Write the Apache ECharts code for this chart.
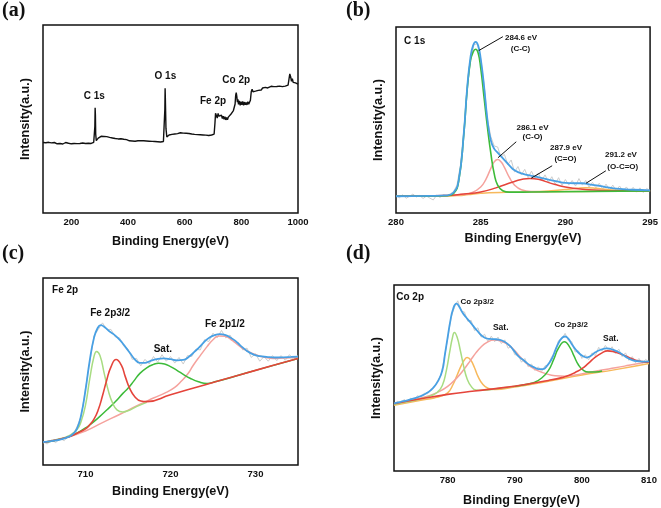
<!DOCTYPE html>
<html><head><meta charset="utf-8">
<script src="https://cdn.jsdelivr.net/npm/echarts@6/dist/echarts.min.js"></script>
<style>html,body{margin:0;padding:0;background:#fff}#c{width:661px;height:508px}</style>
</head><body><div id="c"></div>
<script>
// ---------- (a) survey ----------
const surveyData = [[100,37.5],[105,37.0],[110,37.4],[115,36.8],[120,37.6],[125,37.1],[130,37.3],[135,36.9],[140,37.5],[145,37.2],[150,36.8],[155,37.4],[160,37.0],[165,37.3],[170,36.7],[175,37.2],[180,37.5],[185,36.9],[190,37.1],[195,37.4],[200,36.8],[205,37.2],[210,37.0],[215,37.5],[220,36.9],[225,37.3],[230,37.0],[235,36.7],[240,37.2],[245,37.4],[250,37.0],[255,37.8],[260,37.1],[265,37.3],[270,37.0],[275,37.4],[279,37.6],[281,38.5],[283,46],[284,56],[285,52],[286,42],[288,38.5],[291,39.2],[295,39.8],[300,40.5],[305,40.8],[310,40.3],[315,40.7],[320,40.2],[325,40.6],[330,39.8],[335,40.2],[340,39.5],[345,39.9],[350,39.3],[355,39.6],[360,39.0],[365,39.4],[370,38.9],[375,39.5],[380,38.8],[385,39.2],[390,38.6],[395,39.0],[400,38.7],[405,38.4],[410,38.9],[415,38.3],[420,38.6],[425,38.2],[430,38.7],[435,38.4],[440,38.0],[445,38.5],[450,38.1],[455,38.4],[460,37.9],[465,38.3],[470,37.8],[475,38.2],[480,37.7],[485,38.1],[490,37.6],[495,38.0],[500,37.5],[505,37.9],[510,37.4],[515,37.8],[520,37.6],[525,38.0],[528,39],[530,55],[531,66.4],[532,60],[534,45],[537,40.5],[540,40.2],[545,41.5],[550,42.3],[555,41.8],[560,42.6],[565,42.0],[570,42.8],[575,42.2],[580,41.9],[585,42.7],[590,42.1],[595,42.5],[600,41.8],[605,42.4],[610,41.6],[615,42.3],[620,41.5],[625,42.0],[630,41.3],[635,41.8],[640,41.2],[645,41.7],[650,41.0],[655,41.6],[660,40.8],[665,41.5],[670,40.9],[675,41.4],[680,40.6],[685,41.2],[690,41.0],[695,41.5],[700,41.2],[704,42],[707,48],[709,53],[712,52],[715,50.5],[718,53],[721,51.5],[724,52.5],[727,50.8],[730,52],[733,50.2],[736,51.5],[739,49.8],[742,51.2],[745,49.5],[748,50.8],[751,49.6],[754,51],[757,50.2],[760,51.8],[763,52.5],[766,52],[769,53.5],[772,54.5],[775,55],[778,58],[780,62.5],[782,64],[784,62],[786,59],[788,60.5],[790,57.8],[793,59.6],[796,57.2],[799,59.2],[802,57.5],[805,59.4],[808,57.3],[811,59],[814,57.6],[817,58.8],[820,57.5],[823,59.2],[826,57.8],[829,58.5],[832,60],[835,64.5],[838,65.8],[841,64.5],[845,65.5],[850,64.8],[855,65.8],[860,65.2],[865,66.2],[870,65.4],[875,66.5],[880,65.8],[885,66.8],[890,67.8],[893,66.5],[897,67.5],[900,66.6],[905,67.4],[910,66.5],[915,67.2],[920,66.4],[925,67.3],[930,66.6],[935,67.5],[940,66.8],[945,67.2],[950,66.5],[955,67.5],[960,66.9],[965,68],[968,71],[971,74],[974,72.5],[977,70],[980,71.5],[983,69.5],[987,70.5],[991,69.2],[995,70],[1000,68.5]];
const surveyLabels = [[281,62.2,'C 1s'],[532,72.9,'O 1s'],[700,59.2,'Fe 2p'],[782,70.4,'Co 2p']];

// ---------- (b) C 1s ----------
const bRaw = [[280.0,9.5],[280.2,8.2],[280.4,9.8],[280.6,7.9],[280.8,9.0],[281.0,10.2],[281.2,8.6],[281.4,9.4],[281.6,7.8],[281.8,9.1],[282.0,8.0],[282.2,7.0],[282.4,9.6],[282.6,8.4],[282.8,9.9],[283.0,9.2],[283.2,10.3],[283.4,11.5],[283.6,15.0],[283.8,25.5],[284.0,42.0],[284.2,66.5],[284.4,82.0],[284.6,90.5],[284.8,91.0],[285.0,83.0],[285.2,69.0],[285.4,50.5],[285.6,41.0],[285.8,36.0],[286.0,35.5],[286.2,30.0],[286.4,31.5],[286.6,26.0],[286.8,28.5],[287.0,22.0],[287.2,25.0],[287.4,20.5],[287.6,23.5],[287.8,19.0],[288.0,22.5],[288.2,18.5],[288.4,21.5],[288.6,17.5],[288.8,20.5],[289.0,16.5],[289.2,19.5],[289.4,15.5],[289.6,19.0],[289.8,14.8],[290.0,18.0],[290.2,15.0],[290.4,17.5],[290.6,14.5],[290.8,18.5],[291.0,15.0],[291.2,17.5],[291.4,13.8],[291.6,16.5],[291.8,13.5],[292.0,16.0],[292.2,12.8],[292.4,15.5],[292.6,12.5],[292.8,15.0],[293.0,12.0],[293.2,14.5],[293.4,11.8],[293.6,14.0],[293.8,11.5],[294.0,13.8],[294.2,11.2],[294.4,13.5],[294.6,11.0],[294.8,13.2],[295.0,12.0]];
const bFit = [[280,9.0],[282,9.2],[283,9.5],[283.4,11],[283.7,17.5],[284.0,42.5],[284.2,67],[284.4,84],[284.55,90],[284.7,92],[284.85,90],[285.0,83],[285.2,68],[285.4,50],[285.6,39],[285.8,34.5],[286.0,32.5],[286.3,29.5],[286.7,25.5],[287.0,23],[287.5,21],[288,20],[288.5,19],[289,18],[289.5,17],[290,16.2],[290.5,16],[291,16],[291.5,15.3],[292,14.6],[292.5,13.8],[293,13.1],[294,12.5],[295,12.2]];
const bCC = [[280,9.0],[283,9.3],[283.4,10.5],[283.7,17],[284.0,42],[284.2,66],[284.4,82],[284.55,86.5],[284.7,88],[284.85,86],[285.0,78],[285.2,62],[285.4,46],[285.6,32],[285.8,21],[286.0,15],[286.3,12],[286.7,11.2],[288,11.3],[295,11.9]];
const bCO = [[282,9.2],[284,10],[284.5,11],[285,14],[285.3,18],[285.6,24],[285.8,27.5],[286.0,28.8],[286.2,27.5],[286.4,24.5],[286.7,19],[287.0,15],[287.4,12.5],[288,11.5],[289,11.4]];
const bCeqO = [[280,9.1],[283,9.4],[284,10.2],[285,11.3],[285.9,13.5],[286.9,16.7],[287.4,18],[287.9,18.6],[288.4,18.2],[288.8,17],[289.4,15.3],[290,14],[291,12.8],[292,12.2],[293,11.9],[295,11.8]];
const bOCO = [[288,11.4],[289,11.8],[290,12.6],[290.7,13.3],[291.2,13.6],[291.8,13.3],[292.5,12.6],[293.5,12.1],[295,11.9]];
const bBg = [[280,9.0],[282,9.1],[283,9.2],[283.6,9.4],[284,9.6],[284.5,10.1],[285,10.6],[285.5,10.9],[286.5,11.1],[288,11.3],[290,11.5],[292,11.7],[295,11.9]];
const bLabels = [[281.1,92.5,'C 1s',10],[287.38,94.2,'284.6 eV',8],[287.35,88.5,'(C-C)',8],[288.06,46.0,'286.1 eV',8],[288.06,41.0,'(C-O)',8],[290.04,35.1,'287.9 eV',8],[290.0,28.9,'(C=O)',8],[293.28,31.2,'291.2 eV',8],[293.39,24.9,'(O-C=O)',8]];
const bArrows = [[[286.31,94.8],[284.88,87.3]],[[287.1,38.3],[286.02,29.7]],[[289.22,25.4],[287.98,18.7]],[[292.39,22.7],[291.22,16.0]]];

// ---------- (c) Fe 2p ----------
const cRaw = [[705,12.5],[705.5,11.2],[706,13.5],[706.5,12.0],[707,14.2],[707.5,13.0],[708,15.8],[708.5,16.0],[709,20.5],[709.5,26.0],[710,41.0],[710.5,55.0],[711,69.0],[711.5,72.5],[712,76.0],[712.5,72.5],[713,72.5],[713.5,68.5],[714,68.0],[714.5,63.5],[715,62.0],[715.5,56.5],[716,57.0],[716.5,53.0],[717,56.5],[717.5,54.0],[718,58.0],[718.5,55.0],[719,59.0],[719.5,55.5],[720,58.0],[720.5,54.5],[721,57.5],[721.5,54.0],[722,58.5],[722.5,58.0],[723,62.0],[723.5,61.5],[724,67.0],[724.5,66.0],[725,70.5],[725.5,68.0],[726,72.0],[726.5,68.0],[727,69.5],[727.5,65.5],[728,65.5],[728.5,61.5],[729,62.5],[729.5,57.5],[730,59.5],[730.5,55.5],[731,58.0],[731.5,55.5],[732,58.5],[732.5,55.8],[733,58.5],[733.5,56.0],[734,59.0],[734.5,56.5],[735,58.5]];
const cFit = [[705,12.2],[706,12.8],[707,13.6],[708,15],[708.5,16.5],[709,19.5],[709.5,27],[710,40],[710.5,56],[711,68],[711.4,73],[711.8,74.8],[712.3,73.5],[712.8,71.5],[713.3,70],[713.8,68],[714.3,65.5],[714.8,62.5],[715.3,59.5],[715.8,56.5],[716.4,54.6],[717,54.6],[717.6,55.6],[718.4,56.6],[719.2,57],[720,56.6],[720.8,56],[721.5,56.2],[722.2,58],[722.8,60.5],[723.4,63],[724,66],[724.6,68.2],[725.2,69.5],[725.8,70],[726.4,69.6],[727,68.3],[727.6,66.5],[728.2,64],[729,61],[729.8,59],[730.5,58.2],[731.3,57.8],[732.3,57.5],[733.3,57.6],[734.2,57.8],[735,58]];
const cP32a = [[705,12],[707,14],[708,15.5],[709,19],[709.5,23.5],[710,32],[710.5,46],[711,58],[711.3,60.7],[711.7,58.5],[712.2,49],[712.7,39.5],[713.2,33],[713.7,29.5],[714.4,28.4],[715,29],[716,31.2],[717.2,33.5]];
const cP32b = [[705,12],[708,15],[709,17],[710,19.3],[710.5,21.5],[711,24.5],[711.5,29.5],[712,37],[712.5,45.5],[713,52.5],[713.6,56.4],[714.2,53.5],[714.7,47],[715.2,41],[715.8,36.5],[716.5,34.2],[717.2,33.9],[720,37.6],[724,42.8],[728,48],[732,53.2],[735,57]];
const cSat = [[705,12],[707,13.8],[708.5,16],[710,19.8],[710.5,21.4],[711.5,25.2],[712.5,29.4],[713.5,33.8],[714.4,38.3],[715,41],[715.7,45],[716.4,49],[717.2,52],[718,53.8],[718.6,54.4],[719.3,54],[720,52.6],[720.8,50.5],[721.5,48.5],[722.3,46.4],[723.3,44.5],[724.3,43.6],[725.3,44.6],[726.5,46],[728,48],[730,50.6],[735,57]];
const cP12 = [[705,12],[708,15],[710,18.2],[712,22.7],[714,27],[716,31.6],[718,35.8],[719.5,38.8],[720.5,41.5],[721.2,44.5],[722,48.5],[722.7,53.5],[723.5,58.5],[724.3,63.3],[725,67],[725.7,69],[726.4,68.8],[727.3,66.5],[728.2,63.3],[729.1,60.8],[730.1,58.8],[731.1,57.6],[732.1,57],[733.5,57.2],[735,57.8]];
const cLabels = [[707.6,93.6,'Fe 2p',10],[712.9,81.3,'Fe 2p3/2',10],[719.1,62.0,'Sat.',10],[726.4,75.4,'Fe 2p1/2',10]];

// ---------- (d) Co 2p ----------
const dRaw = [[772,35.5],[772.5,37.5],[773,36.2],[773.5,38.5],[774,37.0],[774.5,39.2],[775,38.2],[775.5,40.5],[776,39.6],[776.5,41.8],[777,41.5],[777.5,44.2],[778,45.0],[778.5,48.5],[779,51.5],[779.5,61.0],[780,71.0],[780.5,82.5],[781,88.0],[781.5,91.5],[782,86.0],[782.5,85.5],[783,80.5],[783.5,81.0],[784,75.5],[784.5,77.0],[785,72.0],[785.5,73.5],[786,69.5],[786.5,72.5],[787,69.5],[787.5,72.0],[788,68.5],[788.5,70.5],[789,66.0],[789.5,67.0],[790,62.5],[790.5,62.5],[791,58.5],[791.5,60.5],[792,56.0],[792.5,57.5],[793,54.0],[793.5,56.0],[794,53.5],[794.5,56.5],[795,57.0],[795.5,61.5],[796,64.0],[796.5,70.0],[797,71.0],[797.5,74.0],[798,70.0],[798.5,69.5],[799,64.0],[799.5,64.5],[800,60.5],[800.5,62.5],[801,59.8],[801.5,63.5],[802,62.0],[802.5,66.5],[803,64.5],[803.5,67.5],[804,64.8],[804.5,66.8],[805,63.2],[805.5,65.5],[806,61.5],[806.5,63.5],[807,59.5],[807.5,61.5],[808,58.2],[808.5,60.5],[809,57.8],[809.5,60.0],[810,58.5]];
const dFit = [[772,36.4],[773,37.2],[774,38.0],[775,39.0],[776,40.3],[777,42.2],[777.8,44.5],[778.6,48.6],[779.2,54],[779.6,62.9],[780,72],[780.4,80.7],[780.8,87],[781.3,90],[781.7,88.5],[782.2,85.2],[782.7,82.8],[783.2,80.7],[783.8,78],[784.4,75.4],[785,73],[785.6,71.5],[786.3,71],[786.9,70.9],[787.6,70.6],[788.4,69.6],[789.2,67.5],[789.9,64.6],[790.6,61.5],[791.4,59.3],[792.2,57],[792.9,55.7],[793.6,54.8],[794.2,54.8],[794.8,56.5],[795.5,60.2],[796.1,65.5],[796.7,70],[797.1,71.8],[797.5,72.3],[798,71],[798.5,68.2],[799.1,65.2],[799.7,62.9],[800.2,61.7],[800.7,61],[801.3,61.8],[802,63.8],[802.8,65.2],[803.7,65.9],[804.6,65.3],[805.5,63.8],[806.5,61.5],[807.5,59.6],[808.5,59],[809.3,58.8],[810,58.9]];
const dP32a = [[772,35.8],[774,37.2],[776,38.8],[777.5,40.5],[778.5,42.5],[779.2,46],[779.8,54],[780.3,64],[780.7,71.5],[781,74.5],[781.4,72],[781.9,64.5],[782.4,56],[782.9,49.5],[783.5,45.5],[784.2,43.5],[785,43.4],[788,44.6],[790,45.6]];
const dP32b = [[772,35.3],[776,38.0],[778,39.3],[779,40.3],[780,42.0],[780.8,46.5],[781.4,51.5],[782,56.5],[782.5,59.8],[782.9,61],[783.4,59.8],[784,55.5],[784.5,51],[785.2,46.8],[786,44.5],[787,43.8],[790,45.2],[795,48.3],[800,51.6],[805,54.5],[810,57.8]];
const dSat1 = [[772,36.3],[775,38.3],[777,40.2],[778.5,42.3],[780,45.5],[781.4,50.2],[782.5,55],[783.4,59.5],[784.2,63.5],[784.9,66.4],[785.8,69],[786.9,70.4],[788,69.8],[788.9,68.2],[789.9,65],[790.9,61],[791.7,58],[792.4,56],[793.4,54],[794.5,52.5],[796,51.2],[797.5,51],[799,51.6],[801,53],[803,54.3],[805,55.5],[807,56.8],[810,58.8]];
const dP12 = [[790,45.5],[792,46.8],[793,47.8],[794,50],[795,54],[795.8,60],[796.5,66],[797.4,69.5],[798.2,66.5],[798.8,62],[799.5,57],[800.2,54.2],[801,53.2],[802,53.2],[803,53.8]];
const dSat2 = [[772,36.2],[776,38.8],[780,41.2],[784,43.0],[788,44.7],[792,46.8],[795,48.7],[797,50.2],[798,51.3],[799,53],[800,55],[801,58],[802,61.2],[803,63.5],[803.8,64.6],[804.6,64.3],[805.4,63.4],[806.2,62.3],[807,61.0],[808,59.6],[809,58.8],[810,58.5]];
const dLabels = [[774.4,93.5,'Co 2p',10],[784.4,90.9,'Co 2p3/2',8],[787.9,76.9,'Sat.',8.5],[798.4,78.5,'Co 2p3/2',8],[804.3,71.0,'Sat.',8.5]];

// ---------- chart ----------
const F = '"Liberation Sans", Arial, Helvetica, sans-serif';
const C = {blue:'#48a0e4', green:'#3dbb3a', lgreen:'#a8dc82', red:'#e5443b', pink:'#f5a29d', orange:'#f7b95c', gray:'#cdcdcd'};
const grids = [
  {left:43, top:25, width:255, height:188},
  {left:396, top:27, width:255, height:186},
  {left:43, top:278, width:255, height:187},
  {left:394, top:285, width:255, height:186}
];
const xCfg = [
  {min:100, max:1000, interval:100, every:200, gap:22},
  {min:280, max:295, interval:5, every:5, gap:19},
  {min:705, max:735, interval:5, every:10, gap:20},
  {min:772, max:810, interval:2, every:10, gap:23}
];
const xAxis = xCfg.map((c,i)=>({
  type:'value', gridIndex:i, min:c.min, max:c.max, interval:c.interval,
  axisLine:{show:false}, axisTick:{show:false}, splitLine:{show:false},
  axisLabel:{margin:4, fontSize:9.5, fontWeight:'bold', fontFamily:F, color:'#111',
    formatter:v=> (Math.abs(v % c.every) < 1e-6 && v !== c.min) || (i===1) ? String(v) : ''},
  name:'Binding Energy(eV)', nameLocation:'middle', nameGap:c.gap,
  nameTextStyle:{fontSize:12.6, fontWeight:'bold', fontFamily:F, color:'#111'}
}));
const yAxis = [0,1,2,3].map(i=>({
  type:'value', gridIndex:i, min:0, max:100,
  axisLine:{show:false}, axisTick:{show:false}, splitLine:{show:false}, axisLabel:{show:false},
  name:'Intensity(a.u.)', nameLocation:'middle', nameGap:11,
  nameTextStyle:{fontSize:12.6, fontWeight:'bold', fontFamily:F, color:'#111'}
}));
function line(i, data, color, width, smooth, extra){
  return Object.assign({type:'line', xAxisIndex:i, yAxisIndex:i, data:data, showSymbol:false, symbol:'none',
    smooth:smooth, lineStyle:{color:color, width:width}, itemStyle:{color:color}, silent:true, animation:false, z:2}, extra||{});
}
function labels(list, defSize){
  return {symbol:'rect', symbolSize:1, itemStyle:{color:'rgba(0,0,0,0)'}, silent:true, animation:false,
    label:{show:true, position:'inside', color:'#111', fontWeight:'bold', fontFamily:F},
    data:list.map(l=>({coord:[l[0],l[1]], value:0, label:{formatter:l[2], fontSize:l[3]||defSize}}))};
}
const series = [
  line(0, surveyData, '#111', 1.4, false, {markPoint:labels(surveyLabels,10)}),
  line(1, bRaw, C.gray, 1, false),
  line(1, bBg, C.orange, 1.5, true),
  line(1, bOCO, C.orange, 1.5, true),
  line(1, bCO, C.pink, 1.5, true),
  line(1, bCeqO, C.red, 1.5, true),
  line(1, bCC, C.green, 1.6, true),
  line(1, bFit, C.blue, 1.8, true, {markPoint:labels(bLabels,8),
    markLine:{silent:true, animation:false, symbol:['none','arrow'], symbolSize:[0,7], label:{show:false},
      lineStyle:{color:'#111', width:1, type:'solid'},
      data:bArrows.map(a=>[{coord:a[0]},{coord:a[1]}])}}),
  line(2, cRaw, C.gray, 1, false),
  line(2, cP12, C.pink, 1.5, true),
  line(2, cSat, C.green, 1.5, true),
  line(2, cP32a, C.lgreen, 1.5, true),
  line(2, cP32b, C.red, 1.6, true),
  line(2, cFit, C.blue, 1.8, true, {markPoint:labels(cLabels,10)}),
  line(3, dRaw, C.gray, 1, false),
  line(3, dP32b, C.orange, 1.5, true),
  line(3, dSat1, C.pink, 1.5, true),
  line(3, dP32a, C.lgreen, 1.5, true),
  line(3, dP12, C.green, 1.5, true),
  line(3, dSat2, C.red, 1.6, true),
  line(3, dFit, C.blue, 1.8, true, {markPoint:labels(dLabels,8)})
];
const chart = echarts.init(document.getElementById('c'), null, {renderer:'canvas'});
chart.setOption({
  backgroundColor:'#fff', animation:false,
  grid: grids.map(g=>Object.assign({show:true, borderColor:'#111', borderWidth:1.5, backgroundColor:'transparent'}, g)),
  xAxis, yAxis, series,
  graphic:[
    {type:'text', left:2, top:1, style:{text:'(a)', font:'bold 20px "Liberation Serif", "Times New Roman", serif', fill:'#111'}},
    {type:'text', left:346, top:1, style:{text:'(b)', font:'bold 20px "Liberation Serif", "Times New Roman", serif', fill:'#111'}},
    {type:'text', left:2, top:244, style:{text:'(c)', font:'bold 20px "Liberation Serif", "Times New Roman", serif', fill:'#111'}},
    {type:'text', left:346, top:244, style:{text:'(d)', font:'bold 20px "Liberation Serif", "Times New Roman", serif', fill:'#111'}}
  ]
});
</script>
</body></html>
